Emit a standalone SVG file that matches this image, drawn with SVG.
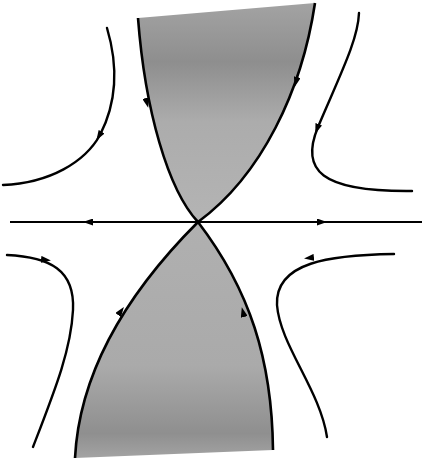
<svg xmlns="http://www.w3.org/2000/svg" width="422" height="462" viewBox="0 0 422 462">
  <style>
    .bound { fill: none; stroke: #000; stroke-width: 2.6; stroke-linejoin: round; }
    .traj { fill: none; stroke: #000; stroke-width: 2.4; stroke-linecap: round; }
    .axis { fill: none; stroke: #000; stroke-width: 2; }
    .ah { fill: none; stroke: none; }
  </style>
  <defs>
    <linearGradient id="gTop" gradientUnits="userSpaceOnUse" x1="0" y1="0" x2="0" y2="222">
      <stop offset="0" stop-color="#a4a4a4"/>
      <stop offset="0.28" stop-color="#8e8e8e"/>
      <stop offset="0.55" stop-color="#acacac"/>
      <stop offset="1" stop-color="#b4b4b4"/>
    </linearGradient>
    <linearGradient id="gBot" gradientUnits="userSpaceOnUse" x1="0" y1="222" x2="0" y2="462">
      <stop offset="0" stop-color="#b0b0b0"/>
      <stop offset="0.6" stop-color="#aaaaaa"/>
      <stop offset="0.88" stop-color="#8f8f8f"/>
      <stop offset="1" stop-color="#a6a6a6"/>
    </linearGradient>
    <marker id="arrow" viewBox="0 0 10 7" refX="5" refY="3.5" markerWidth="10" markerHeight="7" markerUnits="userSpaceOnUse" orient="auto">
      <path d="M0,0 L10,3.5 L0,7 z" fill="#000"/>
    </marker>
  </defs>

  <g id="region-top">
    <path d="M138,18 L315,3 C302,90 262,175 198,222 C168,190 145,110 138,18 Z" fill="url(#gTop)"/>
    <path class="bound" d="M315,3 C302,90 262,175 198,222 C168,190 145,110 138,18"/>
  </g>

  <g id="region-bottom">
    <path d="M198,222 C140,280 80,360 75,458 L273,450 C272,360 250,290 198,222 Z" fill="url(#gBot)"/>
    <path class="bound" d="M75,458 C80,360 140,280 198,222 C250,290 272,360 273,450"/>
  </g>

  <g id="axis">
    <path class="axis" d="M10,222 L422,222"/>
  </g>

  <g id="traj-top-left">
    <path class="traj" d="M107,28 C118,65 118,100 100,135 C85,162 50,183 3,185"/>
  </g>
  <g id="traj-top-right">
    <path class="traj" d="M359,13 C358,40 340,75 318,127 C300,170 320,192 412,191"/>
  </g>
  <g id="traj-bottom-left">
    <path class="traj" d="M7,255 C50,257 75,270 73,310 C71,350 55,390 33,447"/>
  </g>
  <g id="traj-bottom-right">
    <path class="traj" d="M394,254 C330,255 275,262 277,305 C280,345 320,390 327,437"/>
  </g>

  <g id="connectors">
    <path class="ah" d="M95,222 L88,222" marker-end="url(#arrow)"/>
    <path class="ah" d="M315,222 L322,222" marker-end="url(#arrow)"/>
    <path class="ah" d="M104,128 L99,136" marker-end="url(#arrow)"/>
    <path class="ah" d="M320,121 L317,129" marker-end="url(#arrow)"/>
    <path class="ah" d="M38,259 L46,260" marker-end="url(#arrow)"/>
    <path class="ah" d="M317,257 L309,258" marker-end="url(#arrow)"/>
    <path class="ah" d="M145,95 L147,103" marker-end="url(#arrow)"/>
    <path class="ah" d="M298,74 L296,82" marker-end="url(#arrow)"/>
    <path class="ah" d="M116,318 L121,311" marker-end="url(#arrow)"/>
    <path class="ah" d="M245,320 L243,312" marker-end="url(#arrow)"/>
  </g>
</svg>
